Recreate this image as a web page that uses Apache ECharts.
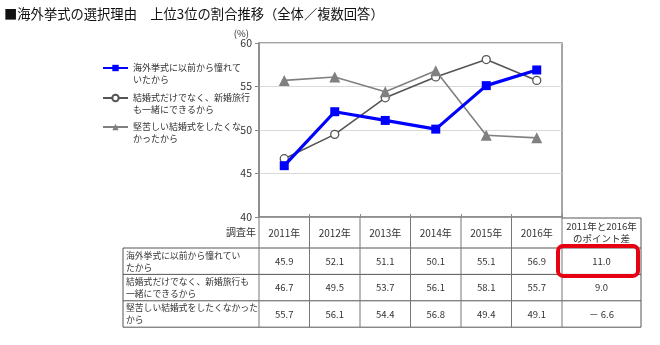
<!DOCTYPE html>
<html><head><meta charset="utf-8">
<script src="https://cdn.jsdelivr.net/npm/echarts@6/dist/echarts.min.js"></script>
<style>html,body{margin:0;padding:0;background:#fff}#c{width:660px;height:345px}</style>
</head><body><div id="c"></div>
<script>
const titleText = '■海外挙式の選択理由　上位3位の割合推移（全体／複数回答）';
const years = ['2011年','2012年','2013年','2014年','2015年','2016年'];
const seriesNames = ['海外挙式に以前から憧れていたから','結婚式だけでなく、新婚旅行も一緒にできるから','堅苦しい結婚式をしたくなかったから'];
const legendLabels = ['海外挙式に以前から憧れて\nいたから','結婚式だけでなく、新婚旅行\nも一緒にできるから','堅苦しい結婚式をしたくな\nかったから'];
const rowLabels = ['海外挙式に以前から憧れてい\nたから','結婚式だけでなく、新婚旅行も\n一緒にできるから','堅苦しい結婚式をしたくなかった\nから'];
const admired = [45.9, 52.1, 51.1, 50.1, 55.1, 56.9];
const withHoneymoon = [46.7, 49.5, 53.7, 56.1, 58.1, 55.7];
const notFormal = [55.7, 56.1, 54.4, 56.8, 49.4, 49.1];
const diffHeader = '2011年と2016年\nのポイント差';
const diffLabels = ['11.0', '9.0', '－ 6.6'];
const yAxisUnit = '(%)';
const rowHeaderLabel = '調査年';
const yMin = 40, yMax = 60, yStep = 5;

const FONT = '"Noto Sans CJK JP", "Noto Sans", sans-serif';
const TXT = '#333';
const chart = echarts.init(document.getElementById('c'), null, {renderer: 'canvas'});
const allData = [admired, withHoneymoon, notFormal];
const styles = [
  {symbol: 'rect', symbolSize: 9, color: '#0000ff', width: 3.2, fill: '#0000ff', z: 5},
  {symbol: 'circle', symbolSize: 8, color: '#555', width: 1.6, fill: '#fff', z: 3},
  {symbol: 'triangle', symbolSize: 11, color: '#808080', width: 1.6, fill: '#808080', z: 4}
];
const legendCenters = [68, 98, 127];
const LH = 11.5;

const option = {
  animation: false,
  backgroundColor: '#fff',
  textStyle: {fontFamily: FONT},
  title: {text: titleText, left: 4, top: 7, padding: 0,
    textStyle: {fontSize: 13.3, fontWeight: 'normal', color: '#111', fontFamily: FONT}},
  legend: seriesNames.map((n, i) => ({
    data: [n], left: 102, top: legendCenters[i] - (LH * 3) / 2, orient: 'vertical',
    itemWidth: 25, itemHeight: 8, itemGap: 0, padding: 0,
    formatter: () => ' \n' + legendLabels[i],
    textStyle: {fontSize: 9, color: TXT, lineHeight: LH, fontFamily: FONT}
  })),
  grid: {left: 259, right: 98, top: 43, bottom: 128, show: true, borderColor: '#888', borderWidth: 1.5},
  xAxis: {
    type: 'category', data: years, boundaryGap: true,
    axisLine: {lineStyle: {color: '#888', width: 1.5}},
    axisTick: {show: true, inside: true, length: 3, lineStyle: {color: '#888'}},
    axisLabel: {fontSize: 10, color: TXT, margin: 11, fontFamily: FONT},
    splitLine: {show: false}
  },
  yAxis: {
    type: 'value', min: yMin, max: yMax, interval: yStep,
    name: yAxisUnit, nameLocation: 'end', nameGap: 5,
    nameTextStyle: {fontSize: 9.5, color: TXT, align: 'right', padding: [0, 10, 0, 0], fontFamily: FONT},
    axisLine: {show: true, lineStyle: {color: '#888', width: 1.5}},
    axisTick: {show: true, length: 4, lineStyle: {color: '#888'}},
    axisLabel: {fontSize: 10.5, color: TXT, margin: 7, fontFamily: FONT},
    splitLine: {show: true, lineStyle: {color: '#d9d9d9', width: 1}}
  },
  series: seriesNames.map((n, i) => ({
    name: n, type: 'line', data: allData[i], z: styles[i].z,
    symbol: styles[i].symbol, symbolSize: styles[i].symbolSize, showSymbol: true,
    lineStyle: {color: styles[i].color, width: styles[i].width},
    itemStyle: {color: styles[i].fill, borderColor: styles[i].color, borderWidth: i === 1 ? 1.3 : 0}
  }))
};
chart.setOption(option);

function buildTable() {
  const cx = years.map((y, i) => chart.convertToPixel({xAxisIndex: 0}, i));
  const w = cx[1] - cx[0];
  const x0 = cx[0] - w / 2, xEnd = cx[cx.length - 1] + w / 2;
  const axisY = chart.convertToPixel({yAxisIndex: 0}, yMin);
  const tableLeft = 123, diffRight = xEnd + 79;
  const headTop = axisY + 1, headBottom = 248, rowH = 26.4;
  const rowsY = [headBottom, headBottom + rowH, headBottom + 2 * rowH, headBottom + 3 * rowH];
  const lineC = '#555', lineW = 1;
  const els = [];
  const line = (x1, y1, x2, y2, c) => els.push({type: 'line', shape: {x1, y1, x2, y2}, style: {stroke: c || lineC, lineWidth: lineW}, silent: true});
  rowsY.forEach(y => line(tableLeft, y, diffRight, y));
  line(tableLeft, headBottom, tableLeft, rowsY[3]);
  for (let k = 0; k <= years.length; k++) line(x0 + k * w, axisY, x0 + k * w, rowsY[3], '#777');
  line(xEnd, headTop, diffRight, headTop);
  line(diffRight, headTop, diffRight, rowsY[3]);
  const txt = (text, x, y, align, size, lh) => els.push({type: 'text', x, y, silent: true,
    style: {text, align, verticalAlign: 'middle', fontSize: size, lineHeight: lh || size * 1.2, fill: TXT, fontFamily: FONT}});
  txt(rowHeaderLabel, x0 - 3, (axisY + headBottom) / 2, 'right', 10);
  txt(diffHeader, (xEnd + diffRight) / 2, (headTop + headBottom) / 2 - 0.5, 'center', 9.5, 12);
  allData.forEach((arr, r) => {
    const yc = (rowsY[r] + rowsY[r + 1]) / 2;
    txt(rowLabels[r], tableLeft + 3, yc, 'left', 8.8, 12);
    arr.forEach((v, i) => txt(v.toFixed(1), cx[i], yc, 'center', 9.5));
    txt(diffLabels[r], (xEnd + diffRight) / 2, yc, 'center', 9.5);
  });
  els.push({type: 'rect', silent: true, z: 10,
    shape: {x: xEnd - 4, y: headBottom - 2, width: 80, height: rowH + 3.5, r: 5},
    style: {fill: 'none', stroke: '#e60012', lineWidth: 4}});
  chart.setOption({graphic: {elements: els}});
}
buildTable();
</script></body></html>
